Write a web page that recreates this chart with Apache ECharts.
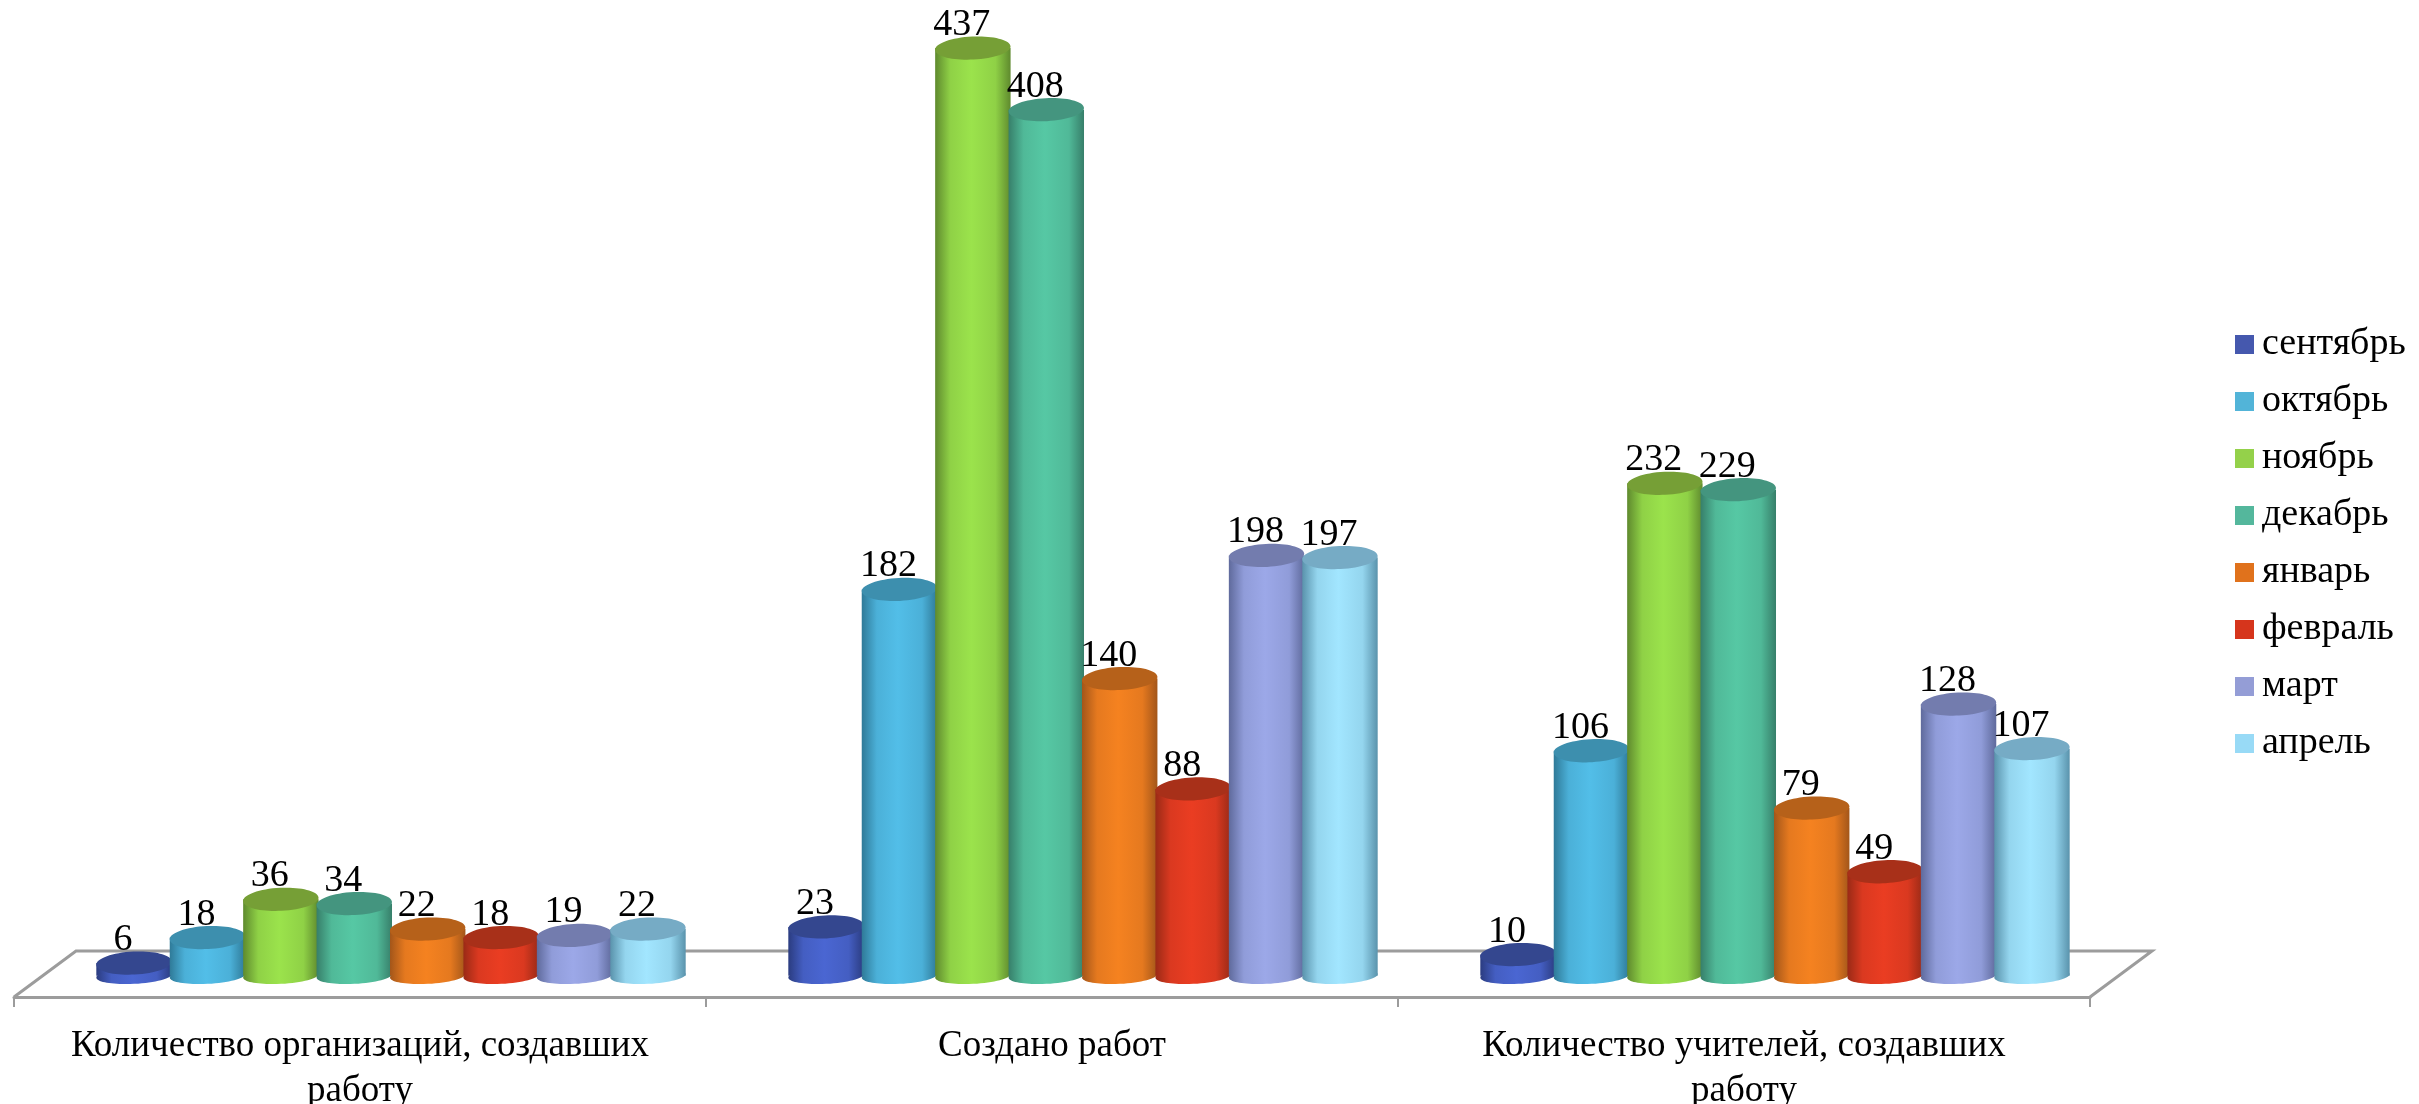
<!DOCTYPE html>
<html><head><meta charset="utf-8">
<style>html,body{margin:0;padding:0;background:#fff}#c{width:2419px;height:1104px}</style>
<script src="https://cdn.jsdelivr.net/npm/echarts@6/dist/echarts.min.js"></script>
</head><body><div id="c"></div>
<script>
const categories = ["Количество организаций, создавших\nработу", "Создано работ", "Количество учителей, создавших\nработу"];
const months = ["сентябрь","октябрь","ноябрь","декабрь","январь","февраль","март","апрель"];
const september = [6, 23, 10];
const october = [18, 182, 106];
const november = [36, 437, 232];
const december = [34, 408, 229];
const january = [22, 140, 79];
const february = [18, 88, 49];
const march = [19, 198, 128];
const april = [22, 197, 107];
const seriesValues = [september, october, november, december, january, february, march, april];

const legendColors = ["#4558AE","#52B4D8","#94D14A","#54B79C","#E0721C","#D6351C","#949DD6","#98DAF6"];
const bodyLight = ["#4A66D2","#52BEE8","#9BE34C","#56C8A4","#F58220","#EA3D22","#9CA8E8","#A2E6FF"];
const bodyDark = ["#2B3C80","#2F7A98","#5F8A2E","#377F6A","#A3561A","#9A2A16","#5F6A9C","#5A93AC"];
const topColor = ["#34478F","#3D8FAE","#769F36","#44957F","#B6611A","#A83019","#737CAE","#76ABC5"];

const SERIF = '"Liberation Serif", serif';
const AXIS_GREY = '#9c9c9c';

function cylinder(sIdx) {
  return function (params, api) {
    const cat = api.value(0), val = api.value(1);
    const band = api.size([1, 0])[0];
    const step = band * 0.1061, shift = band * 0.0448, rx = band * 0.0545;
    const base = api.coord([cat, 0]), top = api.coord([cat, val]);
    const cx = base[0] + step * (sIdx - 3.5) + shift;
    const mid = echarts.color.lerp(0.8, [bodyDark[sIdx], bodyLight[sIdx]]);
    const grad = new echarts.graphic.LinearGradient(0, 0, 1, 0, [
      {offset: 0, color: bodyDark[sIdx]},
      {offset: 0.2, color: mid},
      {offset: 0.48, color: bodyLight[sIdx]},
      {offset: 0.8, color: mid},
      {offset: 1, color: bodyDark[sIdx]}
    ]);
    const tilt = 0.05;
    return {
      type: 'group',
      children: [
        {type: 'ellipse', shape: {cx: cx, cy: base[1], rx: rx, ry: 8}, rotation: tilt, originX: cx, originY: base[1], style: {fill: grad}},
        {type: 'rect', shape: {x: cx - rx, y: top[1], width: 2 * rx, height: base[1] - top[1]}, style: {fill: grad}},
        {type: 'ellipse', shape: {cx: cx, cy: top[1], rx: rx, ry: 11.5}, rotation: tilt, originX: cx, originY: top[1], style: {fill: topColor[sIdx]}},
        {type: 'text', x: cx - 11, y: top[1] - 23, style: {text: String(val), font: '38px ' + SERIF, fill: '#000', align: 'center', verticalAlign: 'middle'}}
      ]
    };
  };
}

function floorRender(params, api) {
  const g = params.coordSys;
  const x0 = g.x, x1 = g.x + g.width, y = g.y + g.height, dx = 62, dy = 46;
  return {
    type: 'polyline',
    shape: {points: [[x0, y], [x0 + dx, y - dy], [x1 + dx, y - dy], [x1, y]]},
    style: {stroke: AXIS_GREY, lineWidth: 3, fill: 'none'}
  };
}

const series = [{
  type: 'custom', name: 'floor', silent: true, data: [[0, 0]], renderItem: floorRender, z: 1,
  coordinateSystem: 'cartesian2d', clip: false
}].concat(months.map(function (m, i) {
  return {
    type: 'custom', name: m, coordinateSystem: 'cartesian2d', clip: false, z: 2 + i,
    itemStyle: {color: legendColors[i]},
    encode: {x: 0, y: 1},
    data: seriesValues[i].map(function (v, c) { return [c, v]; }),
    renderItem: cylinder(i)
  };
}));

const chart = echarts.init(document.getElementById('c'), null, {renderer: 'canvas'});
chart.setOption({
  animation: false,
  backgroundColor: '#fff',
  grid: {left: 14, right: 329, top: 20.5, bottom: 107, containLabel: false, outerBoundsMode: 'none'},
  legend: {
    show: true, orient: 'vertical', left: 2235, top: 325, icon: 'rect',
    data: months, itemWidth: 19, itemHeight: 19, itemGap: 18, selectedMode: false, padding: 0,
    textStyle: {fontFamily: SERIF, fontSize: 38, color: '#000', height: 36, lineHeight: 36, padding: [3, 0, 0, 3]}
  },
  xAxis: {
    type: 'category', data: categories, boundaryGap: true, position: 'bottom',
    axisLine: {show: true, onZero: false, lineStyle: {color: AXIS_GREY, width: 3}},
    axisTick: {show: true, length: 10, alignWithLabel: false, lineStyle: {color: AXIS_GREY, width: 2}},
    axisLabel: {interval: 0, margin: 27, fontFamily: SERIF, fontSize: 37, color: '#000', lineHeight: 45, align: 'center', hideOverlap: false},
    splitLine: {show: false}
  },
  yAxis: {type: 'value', min: -10, max: 450, show: false, splitLine: {show: false}},
  series: series
});
</script></body></html>
